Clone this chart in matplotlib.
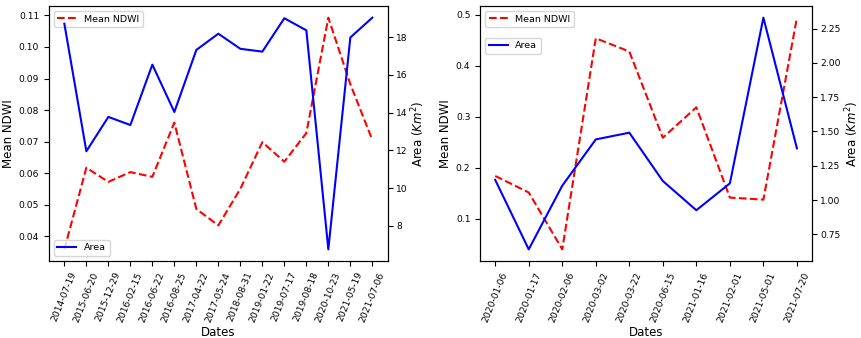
import matplotlib
matplotlib.use("Agg")
import matplotlib.pyplot as plt
import matplotlib.ticker as mticker

dates_a = ["2014-07-19", "2015-06-20", "2015-12-29", "2016-02-15", "2016-06-22",
           "2016-08-25", "2017-04-22", "2017-05-24", "2018-08-31", "2019-01-22",
           "2019-07-17", "2019-08-18", "2020-10-23", "2021-05-19", "2021-07-06"]
ndwi_a = [0.0358, 0.0617, 0.0572, 0.0603, 0.0588, 0.0760, 0.0486, 0.0434, 0.0550,
          0.0698, 0.0636, 0.0727, 0.1093, 0.0882, 0.0705]
area_a = [18.71, 11.95, 13.77, 13.34, 16.54, 14.03, 17.32, 18.18, 17.38, 17.23,
          19.00, 18.36, 6.75, 17.98, 19.03]

dates_b = ["2020-01-06", "2020-01-17", "2020-02-06", "2020-03-02", "2020-03-22",
           "2020-06-15", "2021-01-16", "2021-02-01", "2021-05-01", "2021-07-20"]
ndwi_b = [0.1837, 0.1512, 0.0395, 0.4542, 0.4282, 0.2588, 0.3186, 0.1412, 0.1372, 0.4947]
area_b = [1.147, 0.641, 1.105, 1.442, 1.491, 1.139, 0.926, 1.122, 2.329, 1.377]

fig = plt.figure(figsize=(8.62, 3.38), dpi=100)
TICK = 6.6
LAB = 8.5
LEG = 6.8

def panel(rect, dates, ndwi, area, area_legend_kw):
    ax = fig.add_axes(rect)
    x = list(range(len(dates)))
    ax.plot(x, ndwi, color="red", linestyle="--", linewidth=1.5, label="Mean NDWI")
    ax.set_ylabel("Mean NDWI", fontsize=LAB, labelpad=3)
    ax.set_xlabel("Dates", fontsize=LAB, labelpad=2)
    ax.set_xticks(x)
    ax.set_xticklabels(dates, rotation=68, fontsize=TICK)
    ax.tick_params(axis="y", labelsize=TICK)
    ax.legend(loc="upper left", fontsize=LEG)
    ax2 = ax.twinx()
    ax2.plot(x, area, color="blue", linewidth=1.5, label="Area")
    ax2.set_ylabel("Area ($Km^2$)", fontsize=LAB, labelpad=1.5)
    ax2.tick_params(axis="y", labelsize=TICK, pad=2.5)
    ax2.legend(fontsize=LEG, **area_legend_kw)
    return ax, ax2

panel([0.0568, 0.228, 0.393, 0.754], dates_a, ndwi_a, area_a, {"loc": "lower left"})
ax, ax2 = panel([0.557, 0.228, 0.385, 0.754], dates_b, ndwi_b, area_b,
                {"loc": "upper left", "bbox_to_anchor": (0.0, 0.895)})
ax2.yaxis.set_major_formatter(mticker.FormatStrFormatter("%.2f"))

fig.savefig("out.png", dpi=100)
